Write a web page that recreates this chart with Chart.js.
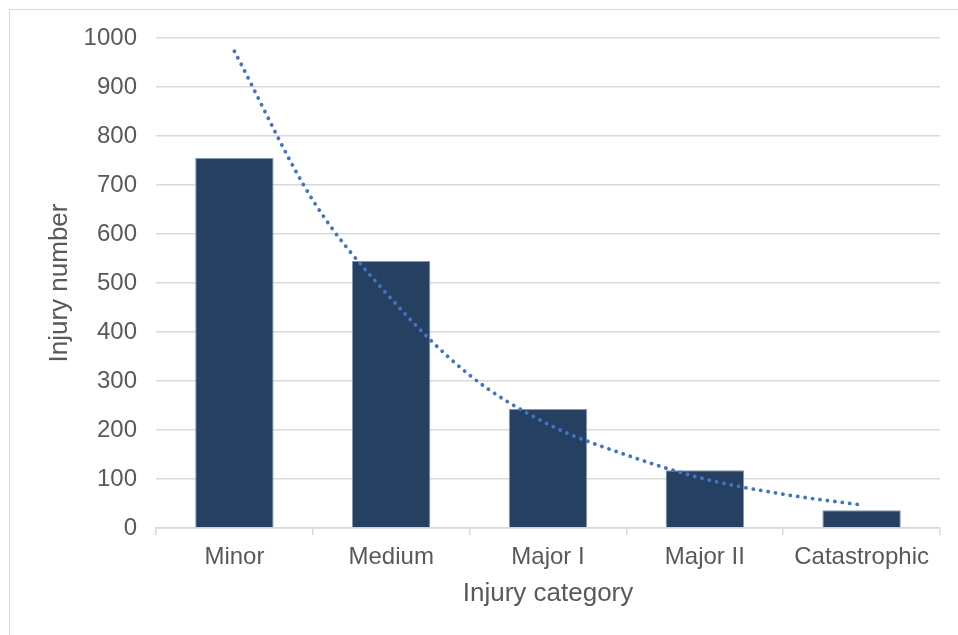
<!DOCTYPE html>
<html>
<head>
<meta charset="utf-8">
<script src="https://cdn.jsdelivr.net/npm/chart.js@4.4.1/dist/chart.umd.min.js"></script>
<style>
html,body{margin:0;padding:0;background:#fff;overflow:hidden;}
#frame{position:absolute;left:9px;top:9px;width:960px;height:640px;border:1px solid #d9d9d9;box-sizing:border-box;}
#wrap{position:absolute;left:0;top:0;width:958px;height:635px;}
</style>
</head>
<body>
<div id="frame"></div>
<div id="wrap"><canvas id="chart"></canvas></div>
<script>
const categories = ["Minor","Medium","Major I","Major II","Catastrophic"];
const injuries = [755, 545, 243, 118, 36];
// exponential trendline at every half category
const trendPos = [0, 0.5, 1, 1.5, 2, 2.5, 3, 3.5, 4];
const trendValues = [973, 669, 468, 312, 212, 149, 100, 69, 47];
const yTicks = [0,100,200,300,400,500,600,700,800,900,1000];

const ctx = document.getElementById('chart').getContext('2d');
const chart = new Chart(ctx,{
    data:{
        labels: categories,
        datasets:[
            { type:'line', label:'Trend', xAxisID:'xt', yAxisID:'y',
              data: trendPos.map((p,i) => ({x:p, y:trendValues[i]})),
              borderColor:'#4472C4', borderWidth:3.8,
              borderDash:[0.1,7.4], borderCapStyle:'round', pointRadius:0, fill:false,
              cubicInterpolationMode:'monotone', order:0 },
            { type:'bar', label:'Injury number', xAxisID:'x', yAxisID:'y', grouped:false,
              data:injuries, backgroundColor:'#264061',
              borderColor:'#8497b0', borderWidth:1, categoryPercentage:1, barPercentage:0.5, order:1 }
        ]
    },
    options:{
        responsive:true, maintainAspectRatio:false, animation:false,
        layout:{ padding:{ left:44, right:18, top:38, bottom:26 } },
        plugins:{ legend:{display:false}, tooltip:{enabled:false} },
        scales:{
            x:{
                type:'category', offset:true,
                afterFit: axis => { axis.height = 81; },
                grid:{ display:true, drawOnChartArea:false, offset:true, color:'#d9d9d9', lineWidth:1.5, tickLength:7 },
                border:{ display:true, color:'#d9d9d9', width:1.5 },
                ticks:{ color:'#595959', font:{ family:'Liberation Sans', size:24 }, padding:8 },
                title:{ display:true, text:'Injury category', color:'#595959', font:{ family:'Liberation Sans', size:26 }, padding:{top:7, bottom:0} }
            },
            xt:{ type:'linear', axis:'x', display:false, min:-0.5, max:4.5 },
            y:{
                min:0, max:1000,
                afterBuildTicks: axis => { axis.ticks = yTicks.map(v => ({value:v})); },
                afterFit: axis => { axis.width = 112; },
                grid:{ color:'#d9d9d9', lineWidth:1.5, drawTicks:false },
                border:{ display:false },
                ticks:{ color:'#595959', font:{ family:'Liberation Sans', size:24 }, padding:19, callback: v => String(v) },
                title:{ display:true, text:'Injury number', color:'#595959', font:{ family:'Liberation Sans', size:26 }, padding:{top:0, bottom:9} }
            }
        }
    }
});
</script>
</body>
</html>
